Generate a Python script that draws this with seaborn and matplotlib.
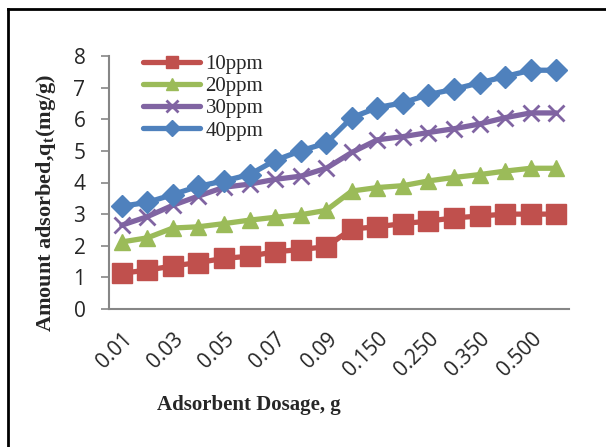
import matplotlib
matplotlib.use("Agg")
import matplotlib.pyplot as plt
from matplotlib.lines import Line2D
import seaborn as sns
import pandas as pd
import numpy as np

# Adsorbent dosage categories (g)
dosage = ["0.01", "0.02", "0.03", "0.04", "0.05", "0.06", "0.07", "0.08", "0.09",
          "0.100", "0.150", "0.200", "0.250", "0.300", "0.350", "0.400", "0.500", "0.600"]

# Amount adsorbed q_t (mg/g) for each initial concentration
q_10ppm = [1.13, 1.23, 1.36, 1.47, 1.6, 1.67, 1.81, 1.88, 1.97,
           2.53, 2.6, 2.7, 2.78, 2.88, 2.94, 3.0, 3.0, 3.0]
q_20ppm = [2.12, 2.25, 2.56, 2.6, 2.7, 2.81, 2.9, 2.98, 3.12,
           3.73, 3.84, 3.9, 4.05, 4.16, 4.25, 4.36, 4.45, 4.45]
q_30ppm = [2.65, 2.92, 3.28, 3.57, 3.85, 3.95, 4.1, 4.2, 4.45,
           4.95, 5.35, 5.45, 5.58, 5.7, 5.85, 6.05, 6.2, 6.2]
q_40ppm = [3.25, 3.37, 3.62, 3.88, 4.05, 4.25, 4.7, 5.0, 5.25,
           6.05, 6.37, 6.52, 6.78, 6.95, 7.15, 7.35, 7.55, 7.55]

series_names = ["10ppm", "20ppm", "30ppm", "40ppm"]
series_values = [q_10ppm, q_20ppm, q_30ppm, q_40ppm]
colors = ["#C0504D", "#9BBB59", "#8064A2", "#4F81BD"]
markers = ["s", "^", "x", "D"]
msizes = [14, 12, 11, 11]

df = pd.DataFrame({
    "pos": np.tile(np.arange(len(dosage)), len(series_names)),
    "q": np.concatenate(series_values),
    "series": np.repeat(series_names, len(dosage)),
})

sns.set_theme(style="white")
plt.rcParams["font.family"] = ["DejaVu Sans"]

W, H = 606, 447
fig = plt.figure(figsize=(W / 100, H / 100), dpi=100)
ax = fig.add_axes([109 / W, 1 - 309 / H, 460 / W, 253 / H])

for name, col, mk, ms in zip(series_names, colors, markers, msizes):
    sub = df[df["series"] == name]
    sns.lineplot(data=sub, x="pos", y="q", ax=ax, color=col, lw=3.8,
                 marker=mk, markersize=ms, markeredgecolor=col,
                 markeredgewidth=2 if mk == "x" else 1, label=name,
                 solid_capstyle="round")

ax.set_xlim(-0.5, len(dosage) - 0.5)
ax.set_ylim(0, 8)
ax.set_yticks(range(0, 9))
ax.set_yticklabels([str(v) for v in range(0, 9)], fontfamily="Open Sans", fontsize=15)

ax.set_xticks(range(0, len(dosage), 2))
ax.set_xticklabels(dosage[::2], rotation=45, ha="right", va="top",
                   rotation_mode="anchor", fontfamily="Open Sans", fontsize=15)
ax.tick_params(axis="x", length=0, pad=14)
ax.tick_params(axis="y", length=6, width=1.2, color="#868686", pad=11, left=True)

for side in ["top", "right"]:
    ax.spines[side].set_visible(False)
for side in ["left", "bottom"]:
    ax.spines[side].set_color("#868686")
    ax.spines[side].set_linewidth(1.5)

ax.set_xlabel("")
ax.set_ylabel("")
fig.text(249 / W, 1 - 405 / H, "Adsorbent Dosage, g", ha="center", va="center",
         fontfamily="Liberation Serif", fontweight="bold", fontsize=15)
fig.text(46 / W, 1 - 203 / H, r"Amount adsorbed,q$_\mathregular{t}$(mg/g)",
         ha="center", va="center", rotation=90,
         fontfamily="Liberation Serif", fontweight="bold", fontsize=16)

leg = ax.legend(loc="upper left", bbox_to_anchor=(34 / 460, 1.005), frameon=False,
                prop={"family": "Liberation Serif", "size": 15},
                handlelength=2.75, handletextpad=0.25, labelspacing=0.12,
                borderaxespad=0, borderpad=0)
for h in leg.legend_handles:
    h.set_markersize(8)

# Outer chart frame (left and top edges)
fig.add_artist(Line2D([8 / W, 8 / W], [-0.05, 1 - 9 / H], transform=fig.transFigure,
                      color="black", lw=2, solid_capstyle="projecting"))
fig.add_artist(Line2D([8 / W, 1.05], [1 - 9 / H, 1 - 9 / H], transform=fig.transFigure,
                      color="black", lw=2, solid_capstyle="projecting"))

fig.savefig("out.png", dpi=100)
